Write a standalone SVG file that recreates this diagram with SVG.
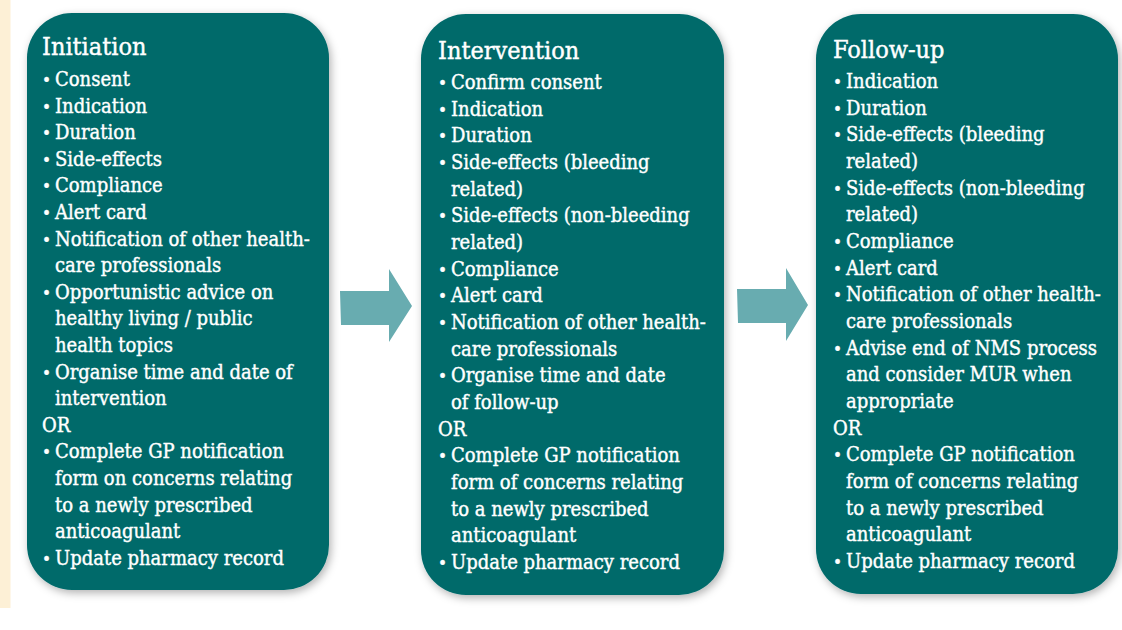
<svg xmlns="http://www.w3.org/2000/svg" width="1122" height="630" viewBox="0 0 1122 630">
<defs>
<filter id="sh" x="-10%" y="-10%" width="120%" height="120%">
<feDropShadow dx="2" dy="3" stdDeviation="4" flood-color="#000" flood-opacity="0.3"/>
</filter>
<style>
.box{fill:#006a6b;filter:url(#sh);}
.arrow{fill:#68acb0;}
text{font-family:'DejaVu Serif Condensed','DejaVu Serif',serif;font-stretch:condensed;fill:#ffffff;stroke:#ffffff;stroke-width:0.4px;}
.t{font-size:25px;}
.i{font-size:20px;}
.b{font-size:17px;}
</style>
</defs>
<rect x="0" y="0" width="1122" height="630" fill="#ffffff"/>
<rect x="0" y="0" width="10.5" height="608" fill="#fdf0d6"/>

<g id="connectors">
<polygon class="arrow" points="340,291 389,291 389,269 412,306 389,342 389,325 341,325"/>
<polygon class="arrow" points="737,289 786,289 786,268 808,305 786,341 786,323 738,323"/>
</g>

<g id="initiation">
<rect class="box" x="27" y="13" width="302" height="577" rx="45" ry="45"/>
<text class="t" x="42" y="55">Initiation</text>
<g class="i">
<text y="86"><tspan class="b" x="42">•</tspan><tspan x="55">Consent</tspan></text>
<text y="112.6"><tspan class="b" x="42">•</tspan><tspan x="55">Indication</tspan></text>
<text y="139.2"><tspan class="b" x="42">•</tspan><tspan x="55">Duration</tspan></text>
<text y="165.8"><tspan class="b" x="42">•</tspan><tspan x="55">Side-effects</tspan></text>
<text y="192.4"><tspan class="b" x="42">•</tspan><tspan x="55">Compliance</tspan></text>
<text y="219"><tspan class="b" x="42">•</tspan><tspan x="55">Alert card</tspan></text>
<text y="245.6"><tspan class="b" x="42">•</tspan><tspan x="55">Notification of other health-</tspan></text>
<text x="55" y="272.2">care professionals</text>
<text y="298.8"><tspan class="b" x="42">•</tspan><tspan x="55">Opportunistic advice on</tspan></text>
<text x="55" y="325.4">healthy living / public</text>
<text x="55" y="352">health topics</text>
<text y="378.6"><tspan class="b" x="42">•</tspan><tspan x="55">Organise time and date of</tspan></text>
<text x="55" y="405.2">intervention</text>
<text x="42" y="431.8">OR</text>
<text y="458.4"><tspan class="b" x="42">•</tspan><tspan x="55">Complete GP notification</tspan></text>
<text x="55" y="485">form on concerns relating</text>
<text x="55" y="511.6">to a newly prescribed</text>
<text x="55" y="538.2">anticoagulant</text>
<text y="564.8"><tspan class="b" x="42">•</tspan><tspan x="55">Update pharmacy record</tspan></text>
</g>
</g>

<g id="intervention">
<rect class="box" x="421" y="14" width="303" height="581" rx="45" ry="45"/>
<text class="t" x="438" y="59">Intervention</text>
<g class="i">
<text y="89"><tspan class="b" x="438">•</tspan><tspan x="451">Confirm consent</tspan></text>
<text y="115.7"><tspan class="b" x="438">•</tspan><tspan x="451">Indication</tspan></text>
<text y="142.3"><tspan class="b" x="438">•</tspan><tspan x="451">Duration</tspan></text>
<text y="169"><tspan class="b" x="438">•</tspan><tspan x="451">Side-effects (bleeding</tspan></text>
<text x="451" y="195.7">related)</text>
<text y="222.3"><tspan class="b" x="438">•</tspan><tspan x="451">Side-effects (non-bleeding</tspan></text>
<text x="451" y="249">related)</text>
<text y="275.7"><tspan class="b" x="438">•</tspan><tspan x="451">Compliance</tspan></text>
<text y="302.3"><tspan class="b" x="438">•</tspan><tspan x="451">Alert card</tspan></text>
<text y="329"><tspan class="b" x="438">•</tspan><tspan x="451">Notification of other health-</tspan></text>
<text x="451" y="355.7">care professionals</text>
<text y="382.3"><tspan class="b" x="438">•</tspan><tspan x="451">Organise time and date</tspan></text>
<text x="451" y="409">of follow-up</text>
<text x="438" y="435.7">OR</text>
<text y="462.3"><tspan class="b" x="438">•</tspan><tspan x="451">Complete GP notification</tspan></text>
<text x="451" y="489">form of concerns relating</text>
<text x="451" y="515.7">to a newly prescribed</text>
<text x="451" y="542.3">anticoagulant</text>
<text y="569"><tspan class="b" x="438">•</tspan><tspan x="451">Update pharmacy record</tspan></text>
</g>
</g>

<g id="follow-up">
<rect class="box" x="816" y="14" width="302" height="580" rx="45" ry="45"/>
<text class="t" x="833" y="58">Follow-up</text>
<g class="i">
<text y="88"><tspan class="b" x="833">•</tspan><tspan x="846">Indication</tspan></text>
<text y="114.7"><tspan class="b" x="833">•</tspan><tspan x="846">Duration</tspan></text>
<text y="141.3"><tspan class="b" x="833">•</tspan><tspan x="846">Side-effects (bleeding</tspan></text>
<text x="846" y="168">related)</text>
<text y="194.7"><tspan class="b" x="833">•</tspan><tspan x="846">Side-effects (non-bleeding</tspan></text>
<text x="846" y="221.3">related)</text>
<text y="248"><tspan class="b" x="833">•</tspan><tspan x="846">Compliance</tspan></text>
<text y="274.7"><tspan class="b" x="833">•</tspan><tspan x="846">Alert card</tspan></text>
<text y="301.3"><tspan class="b" x="833">•</tspan><tspan x="846">Notification of other health-</tspan></text>
<text x="846" y="328">care professionals</text>
<text y="354.7"><tspan class="b" x="833">•</tspan><tspan x="846">Advise end of NMS process</tspan></text>
<text x="846" y="381.3">and consider MUR when</text>
<text x="846" y="408">appropriate</text>
<text x="833" y="434.7">OR</text>
<text y="461.3"><tspan class="b" x="833">•</tspan><tspan x="846">Complete GP notification</tspan></text>
<text x="846" y="488">form of concerns relating</text>
<text x="846" y="514.7">to a newly prescribed</text>
<text x="846" y="541.3">anticoagulant</text>
<text y="568"><tspan class="b" x="833">•</tspan><tspan x="846">Update pharmacy record</tspan></text>
</g>
</g>
</svg>
